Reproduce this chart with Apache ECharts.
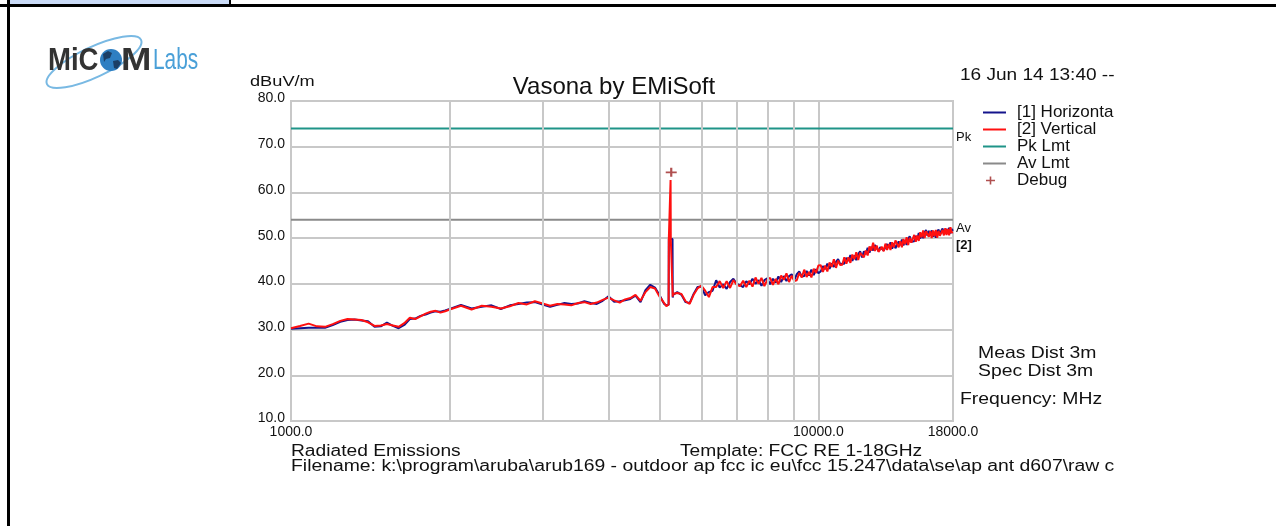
<!DOCTYPE html>
<html>
<head>
<meta charset="utf-8">
<title>Vasona by EMiSoft</title>
<script src="https://cdn.jsdelivr.net/npm/echarts@6.0.0/dist/echarts.min.js"></script>
</head>
<body style="margin:0;background:#fff">
<div id="container" style="width:1276px;height:526px"></div>
<script>
// sweep frequencies (MHz), shared by both traces
var freqs = [
  1000, 1040, 1080, 1120, 1160, 1200, 1240, 1280, 1320, 1360, 1400, 1440, 1480, 1520, 1560, 1600, 1640, 1680, 1720, 1760, 1800, 1840, 1880, 1920, 1960, 2000,
  2100, 2200, 2300, 2400, 2500, 2600, 2700, 2800, 2900, 3000, 3100, 3200, 3300, 3400, 3500, 3600, 3700, 3800, 3900, 4000,
  4100, 4200, 4300, 4400, 4500, 4600, 4700, 4800, 4900, 5000,
  5100, 5150, 5200, 5205, 5240, 5245, 5250, 5290, 5295, 5300, 5400, 5500, 5600, 5700, 5800, 5900, 6000,
  6100, 6200, 6300, 6400, 6500, 6600, 6700, 6800, 6900, 7000,
  7100, 7200, 7300, 7400, 7500, 7600, 7700, 7800, 7900, 8000,
  8100, 8200, 8300, 8400, 8500, 8600, 8700, 8800, 8900, 9000,
  9100, 9200, 9300, 9400, 9500, 9600, 9700, 9800, 9900, 10000,
  10100, 10200, 10300, 10400, 10500, 10600, 10700, 10800, 10900, 11000,
  11100, 11200, 11300, 11400, 11500, 11600, 11700, 11800, 11900, 12000,
  12100, 12200, 12300, 12400, 12500, 12600, 12700, 12800, 12900, 13000,
  13100, 13200, 13300, 13400, 13500, 13600, 13700, 13800, 13900, 14000,
  14100, 14200, 14300, 14400, 14500, 14600, 14700, 14800, 14900, 15000,
  15100, 15200, 15300, 15400, 15500, 15600, 15700, 15800, 15900, 16000,
  16100, 16200, 16300, 16400, 16500, 16600, 16700, 16800, 16900, 17000,
  17100, 17200, 17300, 17400, 17500, 17600, 17700, 17800, 17900, 18000
];
// [1] Horizontal, dBuV/m
var horizontal = [
  30.2, 30.3, 30.4, 30.4, 30.4, 31.0, 31.7, 32.1, 32.2, 32.0, 31.8, 30.6, 30.7, 31.5, 30.8, 30.3, 31.0, 32.3, 32.4, 33.0, 33.3, 33.7, 34.0, 33.9, 34.2, 34.5,
  35.4, 34.6, 35.0, 35.3, 34.5, 35.3, 35.6, 35.9, 36.0, 35.5, 35.0, 35.4, 35.8, 35.6, 35.7, 36.2, 35.8, 35.6, 36.3, 37.3,
  36.1, 36.2, 36.4, 36.7, 37.4, 36.0, 38.6, 39.8, 39.2, 37.5,
  35.6, 35.3, 35.4, 49.8, 49.8, 49.8, 49.8, 49.8, 37.0, 37.6, 38.2, 37.6, 36.0, 35.8, 37.8, 39.3, 39.4,
  37.5, 38.2, 38.5, 40.8, 39.2, 39.9, 38.9, 40.4, 41.1, 40.0,
  39.7, 39.3, 40.6, 39.9, 41.1, 40.0, 40.8, 39.6, 40.8, 41.2,
  39.9, 41.1, 40.3, 41.6, 40.4, 41.7, 40.6, 41.7, 42.1, 40.8,
  42.1, 42.7, 41.6, 41.7, 42.8, 41.8, 43.1, 41.9, 43.2, 42.3,
  42.7, 43.9, 43.2, 44.4, 43.3, 44.5, 43.7, 44.8, 45.4, 44.3,
  44.4, 44.4, 45.7, 45.0, 46.3, 45.0, 46.2, 45.2, 46.5, 47.1,
  45.8, 47.1, 46.5, 47.9, 46.8, 48.1, 47.3, 48.5, 48.7, 47.2,
  48.0, 48.4, 47.3, 47.4, 48.7, 47.9, 49.1, 47.7, 48.8, 47.8,
  48.1, 49.3, 48.5, 49.7, 48.4, 49.5, 48.5, 49.8, 50.4, 49.2,
  49.3, 49.3, 50.5, 49.8, 51.1, 49.9, 51.0, 50.0, 51.3, 51.8,
  50.5, 51.6, 50.7, 51.7, 50.3, 51.2, 50.1, 51.4, 51.9, 50.7,
  51.6, 52.1, 50.8, 50.8, 52.0, 51.2, 52.3, 51.0, 52.0, 51.6
];
// [2] Vertical, dBuV/m
var vertical = [
  30.3, 30.8, 31.3, 30.7, 30.6, 31.2, 31.9, 32.3, 32.2, 32.1, 31.6, 30.8, 30.9, 31.2, 30.9, 30.6, 31.4, 32.6, 32.3, 32.9, 33.5, 33.9, 34.1, 33.7, 34.0, 34.4,
  35.2, 34.4, 35.2, 35.0, 34.6, 35.1, 35.8, 35.5, 36.2, 35.7, 35.2, 35.6, 35.5, 35.3, 35.8, 36.0, 35.6, 35.9, 36.5, 37.0,
  36.4, 35.9, 36.6, 36.9, 37.6, 36.3, 38.2, 39.3, 39.0, 37.2,
  35.8, 35.1, 35.5, 49.8, 49.8, 62.7, 49.8, 49.8, 37.2, 37.8, 38.0, 37.8, 36.2, 35.6, 37.6, 39.0, 39.6,
  38.5, 37.1, 39.3, 39.3, 40.6, 39.1, 40.6, 39.1, 40.8, 39.8,
  39.5, 40.7, 39.3, 40.7, 39.4, 41.4, 40.0, 41.3, 39.5, 40.9,
  41.3, 39.8, 41.1, 39.9, 41.8, 40.9, 42.3, 40.4, 41.8, 40.6,
  40.8, 42.4, 41.4, 43.1, 41.5, 42.6, 41.4, 43.3, 42.4, 44.0,
  44.1, 42.6, 44.0, 42.7, 44.7, 43.7, 45.4, 43.5, 45.1, 44.1,
  44.2, 45.8, 44.4, 45.8, 44.6, 46.4, 45.4, 46.9, 45.2, 46.8,
  47.2, 45.8, 47.3, 46.2, 48.2, 47.3, 49.0, 47.2, 48.4, 47.0,
  46.7, 48.1, 47.1, 48.8, 47.4, 48.7, 47.4, 49.1, 48.0, 49.5,
  49.5, 48.0, 49.3, 48.0, 49.8, 48.7, 50.2, 48.5, 50.1, 49.0,
  49.1, 50.7, 49.2, 50.6, 49.4, 51.3, 50.2, 51.7, 50.0, 51.5,
  51.9, 50.3, 51.5, 50.0, 51.7, 50.4, 51.8, 50.1, 51.6, 50.5,
  50.3, 51.8, 50.6, 52.2, 50.7, 52.0, 50.6, 52.4, 51.2, 51.3
];
var pkLimit = 74;
var avLimit = 54;
var debugPoints = [[5260, 64.4]];
var gridFreqs = [2000, 3000, 4000, 5000, 6000, 7000, 8000, 9000];
var freqRange = [1000, 18000];
var levelRange = [10, 80];

var FONT = '"Liberation Sans", Arial, sans-serif';
// legend icons drawn in a 23x12 box (corner specks keep the box size)
var LINE_ICON = 'path://M0,0h0.01v0.01h-0.01z M23,12h0.01v0.01h-0.01z M0,5h23v2h-23z';
var PLUS_ICON = 'path://M0,0h0.01v0.01h-0.01z M23,12h0.01v0.01h-0.01z M3,5.2h9v1.6h-9z M6.7,2h1.6v8h-1.6z';

function pairs(vals) {
  return freqs.map(function (f, i) { return [f, vals[i]]; });
}

function txt(x, y, s, size, sx, extra) {
  var st = {
    text: s, fontSize: size, fontFamily: FONT, fill: '#111',
    align: 'left', verticalAlign: 'middle'
  };
  for (var k in (extra || {})) st[k] = extra[k];
  return { type: 'text', x: x, y: y, scaleX: sx || 1, style: st, silent: true, z: 10 };
}

var dom = document.getElementById('container');
var myChart = echarts.init(dom, null, { renderer: 'canvas' });

var option = {
  animation: false,
  backgroundColor: '#fff',
  grid: {
    left: 291, top: 101, right: 323, bottom: 105,
    show: true, borderColor: '#c8c8c8', borderWidth: 2
  },
  legend: {
    orient: 'vertical', left: 978, top: 99,
    itemWidth: 23, itemHeight: 12, itemGap: 0,
    selectedMode: false,
    textStyle: {
      fontFamily: FONT, fontSize: 17, color: '#111', lineHeight: 16.6,
      width: 100, overflow: 'truncate', ellipsis: '', padding: [0, 0, 0, 6]
    },
    data: [
      { name: '[1] Horizontal', icon: LINE_ICON },
      { name: '[2] Vertical', icon: LINE_ICON },
      { name: 'Pk Lmt', icon: LINE_ICON },
      { name: 'Av Lmt', icon: LINE_ICON },
      { name: 'Debug', icon: PLUS_ICON }
    ]
  },
  xAxis: {
    type: 'log', logBase: 10, min: freqRange[0], max: freqRange[1],
    axisLine: { show: false }, axisTick: { show: false },
    splitLine: { show: true, lineStyle: { color: '#c8c8c8', width: 2 } },
    axisLabel: {
      margin: 4, fontSize: 14, fontFamily: FONT, color: '#111',
      formatter: function (v) { return Number(v).toFixed(1); }
    }
  },
  yAxis: {
    type: 'value', min: levelRange[0], max: levelRange[1], interval: 10,
    axisLine: { show: false }, axisTick: { show: false },
    splitLine: { show: true, lineStyle: { color: '#c8c8c8', width: 2 } },
    axisLabel: {
      margin: 6, fontSize: 14, fontFamily: FONT, color: '#111',
      verticalAlign: 'bottom', lineHeight: 5,
      formatter: function (v) { return v.toFixed(1); }
    }
  },
  series: [
    {
      name: 'grid', type: 'line', data: [], z: 1, silent: true,
      markLine: {
        silent: true, symbol: 'none', label: { show: false },
        lineStyle: { color: '#c8c8c8', width: 2, type: 'solid' },
        data: gridFreqs.map(function (f) { return { xAxis: f }; })
      }
    },
    {
      name: 'Pk Lmt', type: 'line', symbol: 'none', z: 2,
      data: [[freqRange[0], pkLimit], [freqRange[1], pkLimit]],
      lineStyle: { color: '#1f9488', width: 2 }, itemStyle: { color: '#1f9488' },
      endLabel: { show: true, formatter: 'Pk', distance: 3, offset: [0, 9], fontSize: 13, fontFamily: FONT, color: '#111' }
    },
    {
      name: 'Av Lmt', type: 'line', symbol: 'none', z: 2,
      data: [[freqRange[0], avLimit], [freqRange[1], avLimit]],
      lineStyle: { color: '#8a8a8a', width: 2 }, itemStyle: { color: '#8a8a8a' },
      endLabel: { show: true, formatter: 'Av', distance: 3, offset: [0, 9], fontSize: 13, fontFamily: FONT, color: '#111' }
    },
    {
      name: '[1] Horizontal', type: 'line', symbol: 'none', z: 3,
      data: pairs(horizontal),
      lineStyle: { color: '#14148c', width: 2 }, itemStyle: { color: '#14148c' }
    },
    {
      name: '[2] Vertical', type: 'line', symbol: 'none', z: 4,
      data: pairs(vertical),
      lineStyle: { color: '#ff1010', width: 2 }, itemStyle: { color: '#ff1010' },
      endLabel: { show: true, formatter: '[2]', distance: 3, offset: [0, 13], fontSize: 13, fontWeight: 'bold', fontFamily: FONT, color: '#111' }
    },
    {
      name: 'Debug', type: 'scatter', z: 5,
      symbol: 'path://M4,0h2v4h4v2h-4v4h-2v-4h-4v-2h4z', symbolSize: [11, 9],
      data: debugPoints,
      itemStyle: { color: '#9c2424' }
    }
  ],
  graphic: [
    // page frame
    { type: 'rect', shape: { x: 9, y: 0, width: 221, height: 4 }, style: { fill: '#cadbf7' }, silent: true },
    { type: 'rect', shape: { x: 0, y: 4, width: 1276, height: 3 }, style: { fill: '#000' }, silent: true },
    { type: 'rect', shape: { x: 7, y: 0, width: 3, height: 526 }, style: { fill: '#000' }, silent: true },
    { type: 'rect', shape: { x: 229, y: 0, width: 2, height: 5 }, style: { fill: '#000' }, silent: true },
    // logo
    { type: 'ellipse', x: 94, y: 62, rotation: 0.44, shape: { cx: 0, cy: 0, rx: 52, ry: 15 },
      style: { fill: 'none', stroke: '#79b9e3', lineWidth: 2 }, silent: true },
    txt(48, 61, 'MiC', 32, 0.86, { fontWeight: 'bold', fill: '#333' }),
    { type: 'circle', shape: { cx: 111, cy: 60, r: 11 }, style: { fill: '#2f7fc2' }, silent: true, z: 11 },
    { type: 'polygon', shape: { points: [[103, 54], [108, 51], [112, 53], [110, 58], [106, 59], [104, 62]] },
      style: { fill: '#1c3f66' }, silent: true, z: 12 },
    { type: 'polygon', shape: { points: [[113, 61], [118, 60], [121, 63], [117, 69], [114, 68]] },
      style: { fill: '#1c3f66' }, silent: true, z: 12 },
    txt(121, 61, 'M', 32, 1.14, { fontWeight: 'bold', fill: '#333' }),
    txt(153, 61, 'Labs', 29, 0.72, { fill: '#4aa0d8' }),
    // titles and notes
    txt(250, 82, 'dBuV/m', 14, 1.3),
    txt(614, 87, 'Vasona by EMiSoft', 24, 1, { align: 'center' }),
    txt(960, 76, '16 Jun 14 13:40 --', 16, 1.19),
    txt(978, 353, 'Meas Dist 3m', 17, 1.14),
    txt(978, 371, 'Spec Dist 3m', 17, 1.14),
    txt(960, 399, 'Frequency: MHz', 17, 1.14),
    txt(291, 452, 'Radiated Emissions', 16, 1.2),
    txt(680, 452, 'Template: FCC RE 1-18GHz', 16, 1.2),
    txt(291, 467, 'Filename: k:\\program\\aruba\\arub169 - outdoor ap fcc ic eu\\fcc 15.247\\data\\se\\ap ant d607\\raw c', 16, 1.21)
  ]
};

myChart.setOption(option);
window.addEventListener('resize', function () { myChart.resize(); });
</script>
</body>
</html>
